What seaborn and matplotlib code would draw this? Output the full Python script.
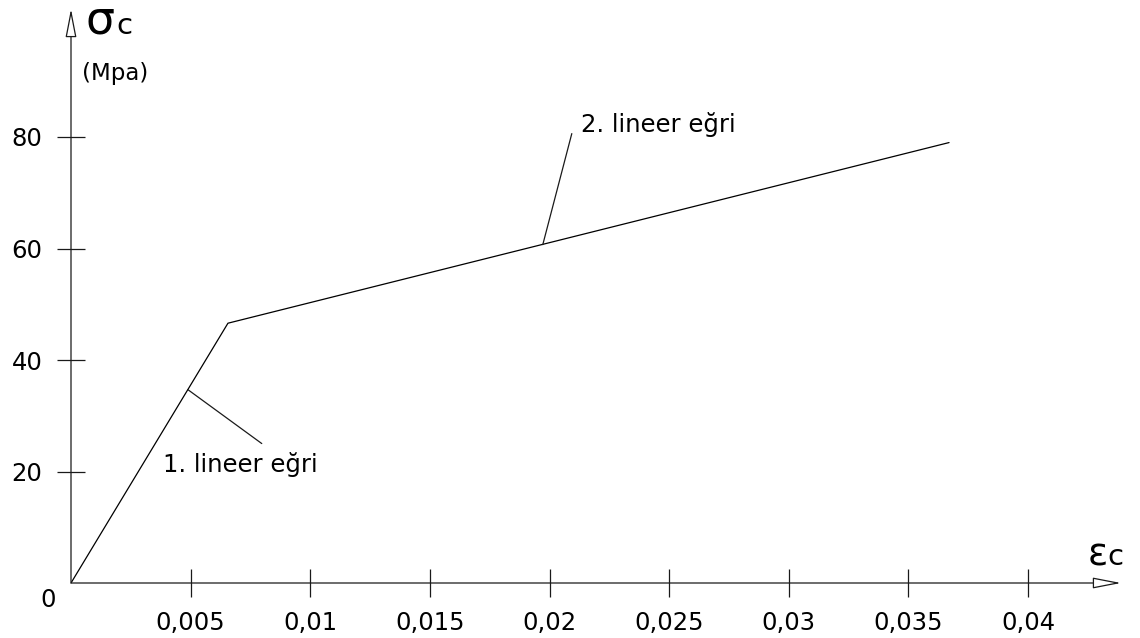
import matplotlib
matplotlib.use("Agg")
import matplotlib.pyplot as plt
import seaborn as sns

# ---- data ----
strain = [0.0, 0.00656, 0.0367]
stress = [0.0, 46.6, 79.0]

x_ticks = [0.005, 0.01, 0.015, 0.02, 0.025, 0.03, 0.035, 0.04]
x_tick_labels = ["0,005", "0,01", "0,015", "0,02", "0,025", "0,03", "0,035", "0,04"]
y_ticks = [20, 40, 60, 80]
y_tick_labels = ["20", "40", "60", "80"]

note1_text = "1. lineer eğri"
note1_xy = (0.00488, 34.7)
note2_text = "2. lineer eğri"
note2_xy = (0.01972, 60.7)

y_label_main = "σ"
y_label_sub = "c"
y_unit = "(Mpa)"
x_label_main = "ε"
x_label_sub = "c"
origin_label = "0"

# ---- style ----
sns.set_style("white")
plt.rcParams["font.family"] = ["DejaVu Sans"]
plt.rcParams["text.color"] = "black"
plt.rcParams["xtick.color"] = "black"
plt.rcParams["ytick.color"] = "black"

W, H = 1140, 638
fig = plt.figure(figsize=(W / 100, H / 100), dpi=100)
fig.patch.set_facecolor("white")

x0p, y0p = 71, 583          # origin in pixels
x1p, y1p = 1121, 9          # arrow tips in pixels
ax = fig.add_axes([x0p / W, (H - y0p) / H, (x1p - x0p) / W, (y0p - y1p) / H])
ax.set_facecolor("white")

xmax = 0.04 * (x1p - x0p) / (1028 - x0p)
ymax = 80 * (y0p - y1p) / (y0p - 137)
ax.set_xlim(0, xmax)
ax.set_ylim(0, ymax)

for s in ax.spines.values():
    s.set_visible(False)

axis_col = "#1a1a1a"
sns.lineplot(x=strain, y=stress, ax=ax, color="black", linewidth=0.9,
             sort=False, estimator=None)

ax.set_xticks(x_ticks)
ax.set_xticklabels(x_tick_labels)
ax.set_yticks(y_ticks)
ax.set_yticklabels(y_tick_labels)
ax.tick_params(axis="both", which="major", bottom=True, left=True,
               top=False, right=False, direction="inout", length=20, width=0.9,
               color=axis_col, labelsize=17.5, labelcolor="black", pad=10.5)
ax.set_xlabel("")
ax.set_ylabel("")

# axis lines with hollow arrowheads
arrow_style = "-|>,head_length=1.75,head_width=0.34"
for tip in [(1, 0), (0, 1)]:
    ax.annotate("", xy=tip, xytext=(0, 0), xycoords="axes fraction",
                textcoords="axes fraction",
                arrowprops=dict(arrowstyle=arrow_style, mutation_scale=10,
                                fc="white", ec=axis_col, lw=0.9,
                                shrinkA=0, shrinkB=0),
                annotation_clip=False)

# axis titles
ax.annotate(y_label_main, xy=(0, 1), xycoords="axes fraction",
            xytext=(15, -25), textcoords="offset pixels",
            ha="left", va="baseline", fontsize=33, annotation_clip=False)
ax.annotate(y_label_sub, xy=(0, 1), xycoords="axes fraction",
            xytext=(45, -25), textcoords="offset pixels",
            ha="left", va="baseline", fontsize=21, annotation_clip=False)
ax.annotate(y_unit, xy=(0, 1), xycoords="axes fraction",
            xytext=(11, -71), textcoords="offset pixels",
            ha="left", va="baseline", fontsize=16.5, annotation_clip=False)
ax.annotate(x_label_main, xy=(1, 0), xycoords="axes fraction",
            xytext=(-33, 18), textcoords="offset pixels",
            ha="left", va="baseline", fontsize=27, annotation_clip=False)
ax.annotate(x_label_sub, xy=(1, 0), xycoords="axes fraction",
            xytext=(-14, 18), textcoords="offset pixels",
            ha="left", va="baseline", fontsize=21, annotation_clip=False)
ax.annotate(origin_label, xy=(0, 0), xycoords="data",
            xytext=(-23, -17), textcoords="offset pixels",
            ha="center", va="center", fontsize=17.5, annotation_clip=False)

# leader-line annotations
ax.annotate("", xy=note1_xy, xytext=(74, -54), textcoords="offset pixels",
            arrowprops=dict(arrowstyle="-", color=axis_col, lw=0.9,
                            shrinkA=0, shrinkB=0))
ax.annotate(note1_text, xy=note1_xy, xytext=(-25, -82), textcoords="offset pixels",
            ha="left", va="baseline", fontsize=17.5)
ax.annotate("", xy=note2_xy, xytext=(29, 111), textcoords="offset pixels",
            arrowprops=dict(arrowstyle="-", color=axis_col, lw=0.9,
                            shrinkA=0, shrinkB=0))
ax.annotate(note2_text, xy=note2_xy, xytext=(38, 113), textcoords="offset pixels",
            ha="left", va="baseline", fontsize=17.5)

fig.savefig("out.png", dpi=100, facecolor="white")
